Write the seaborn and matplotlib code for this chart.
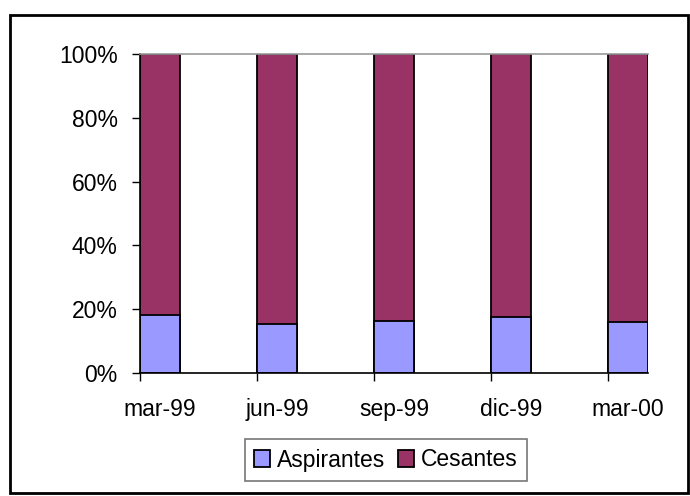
import numpy as np
import pandas as pd
import seaborn as sns
import matplotlib
matplotlib.use("Agg")
import matplotlib.pyplot as plt
from matplotlib.patches import Rectangle, Patch
from matplotlib.ticker import FixedLocator, PercentFormatter

# Quarterly composition of the unemployed (percent of total)
periods = ["mar-99", "jun-99", "sep-99", "dic-99", "mar-00"]
aspirantes = [18.3, 15.3, 16.4, 17.7, 15.9]
cesantes = [100 - a for a in aspirantes]

df = pd.DataFrame({"periodo": periods,
                   "Aspirantes": aspirantes,
                   "Cesantes": cesantes})
df["total"] = df["Aspirantes"] + df["Cesantes"]

sns.set_theme(style="white")
plt.rcParams["font.family"] = ["Liberation Sans", "DejaVu Sans"]

col_asp = "#9999FF"
col_ces = "#993366"
fs = 16.5

fig = plt.figure(figsize=(6.9, 4.96), dpi=100)
ax = fig.add_axes([140 / 690, 1 - 373 / 496, (648 - 140) / 690, (373 - 54) / 496])

w = 0.342
# stacked: full column in Cesantes colour, Aspirantes drawn over its base
sns.barplot(data=df, x="periodo", y="total", color=col_ces, width=w,
            saturation=1, edgecolor="black", linewidth=1.3, ax=ax)
sns.barplot(data=df, x="periodo", y="Aspirantes", color=col_asp, width=w,
            saturation=1, edgecolor="black", linewidth=1.3, ax=ax)

ax.set_xlim(-w / 2, len(periods) - 1 + w / 2)
ax.set_ylim(0, 100)
ax.set_xlabel("")
ax.set_ylabel("")

ax.yaxis.set_major_locator(FixedLocator([0, 20, 40, 60, 80, 100]))
ax.yaxis.set_major_formatter(PercentFormatter(decimals=0))
ax.tick_params(axis="y", which="major", left=True, length=6, width=1,
               color="black", labelsize=fs, pad=10, labelcolor="black")

# labels under each column, tick marks at the column starts
ax.set_xticks(range(len(periods)))
ax.set_xticklabels(periods)
ax.tick_params(axis="x", which="major", bottom=False, labelsize=fs, pad=12,
               labelcolor="black")
ax.set_xticks([i - w / 2 for i in range(len(periods))], minor=True)
ax.tick_params(axis="x", which="minor", bottom=True, length=6, width=1,
               color="black")

for s in ["left", "bottom"]:
    ax.spines[s].set_color("black")
    ax.spines[s].set_linewidth(1.2)
ax.spines["top"].set_color("#999999")
ax.spines["top"].set_linewidth(1.2)
ax.spines["right"].set_visible(False)

handles = [Patch(facecolor=col_asp, edgecolor="black", linewidth=1.3, label="Aspirantes"),
           Patch(facecolor=col_ces, edgecolor="black", linewidth=1.3, label="Cesantes")]
leg = fig.legend(handles=handles, loc="center", bbox_to_anchor=(386 / 690, 1 - 460 / 496),
                 ncol=2, fontsize=fs, frameon=True, fancybox=False,
                 handlelength=0.7, handleheight=0.7, handletextpad=0.3,
                 columnspacing=0.55, borderpad=0.4, borderaxespad=0)
leg.get_frame().set_edgecolor("#555555")
leg.get_frame().set_linewidth(1.2)
for t in leg.get_texts():
    t.set_color("black")

# outer chart frame
fig.patches.append(Rectangle((10 / 690, 1 - 493 / 496), (688 - 10) / 690, (493 - 15) / 496,
                             transform=fig.transFigure, fill=False,
                             edgecolor="black", linewidth=2))

fig.savefig("out.png", dpi=100, facecolor="white")
